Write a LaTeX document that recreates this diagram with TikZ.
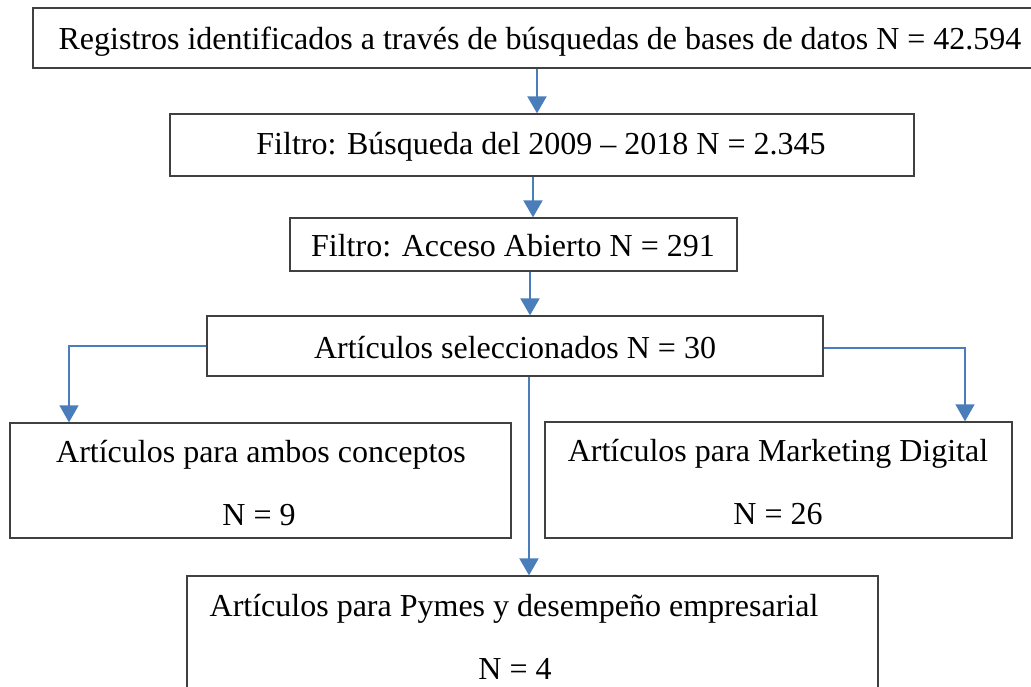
\documentclass[tikz,border=0pt]{standalone}
\usepackage{fontspec}
\setmainfont{Liberation Serif}
\usetikzlibrary{arrows.meta,calc}
\definecolor{arrowblue}{HTML}{4A7EBB}
\definecolor{boxline}{HTML}{404040}
\begin{document}
\begin{tikzpicture}[x=1pt,y=-1pt,
  box/.style={draw=boxline,line width=1.3pt,rectangle,inner sep=0pt},
  txt/.style={anchor=base,inner sep=0pt,font=\fontsize{32}{37}\selectfont},
  flow/.style={draw=arrowblue,line width=2pt,-{Triangle[width=19pt,length=17pt]}},
  side/.style={draw=arrowblue,line width=1.5pt,-{Triangle[width=19pt,length=17pt]}}]
\useasboundingbox (0,0) rectangle (1031,687);
% boxes
\node[box,minimum width=1002pt,minimum height=60pt] (b1) at (534,38) {};
\node[box,minimum width=744pt,minimum height=62pt] (b2) at (542,145) {};
\node[box,minimum width=447pt,minimum height=53pt] (b3) at (513.5,244.5) {};
\node[box,minimum width=616pt,minimum height=60pt] (b4) at (515,346) {};
\node[box,minimum width=501pt,minimum height=115pt] (b5) at (260.5,480.5) {};
\node[box,minimum width=467pt,minimum height=116pt] (b6) at (778.5,480) {};
\node[box,minimum width=691pt,minimum height=130pt] (b7) at (532.5,641) {};
% texts
\node[txt] (t1) at (540,50) {Registros identificados a través de búsquedas de bases de datos N = 42.594};
\node[txt] (t2) at (541,155) {Filtro: Búsqueda del 2009 – 2018 N = 2.345};
\node[txt] (t3) at (513,257) {Filtro: Acceso Abierto N = 291};
\node[txt] (t4) at (515,358) {Artículos seleccionados N = 30};
\node[txt] (t5a) at (261,462) {Artículos para ambos conceptos};
\node[txt] (t5b) at (259,525) {N = 9};
\node[txt] (t6a) at (778,461) {Artículos para Marketing Digital};
\node[txt] (t6b) at (778,524) {N = 26};
\node[txt] (t7a) at (514,616) {Artículos para Pymes y desempeño empresarial};
\node[txt] (t7b) at (515,679) {N = 4};
% connectors
\draw[flow] (537,0 |- b1.south) -- (537,0 |- b2.north);
\draw[flow] (533,0 |- b2.south) -- (533,0 |- b3.north);
\draw[flow] (530,0 |- b3.south) -- (530,0 |- b4.north);
\draw[flow] (529,0 |- b4.south) -- (529,0 |- b7.north);
\draw[side] (b4.west |- 0,346) -| (69,0 |- b5.north);
\draw[side] (b4.east |- 0,348) -| (965,0 |- b6.north);
\end{tikzpicture}
\end{document}
